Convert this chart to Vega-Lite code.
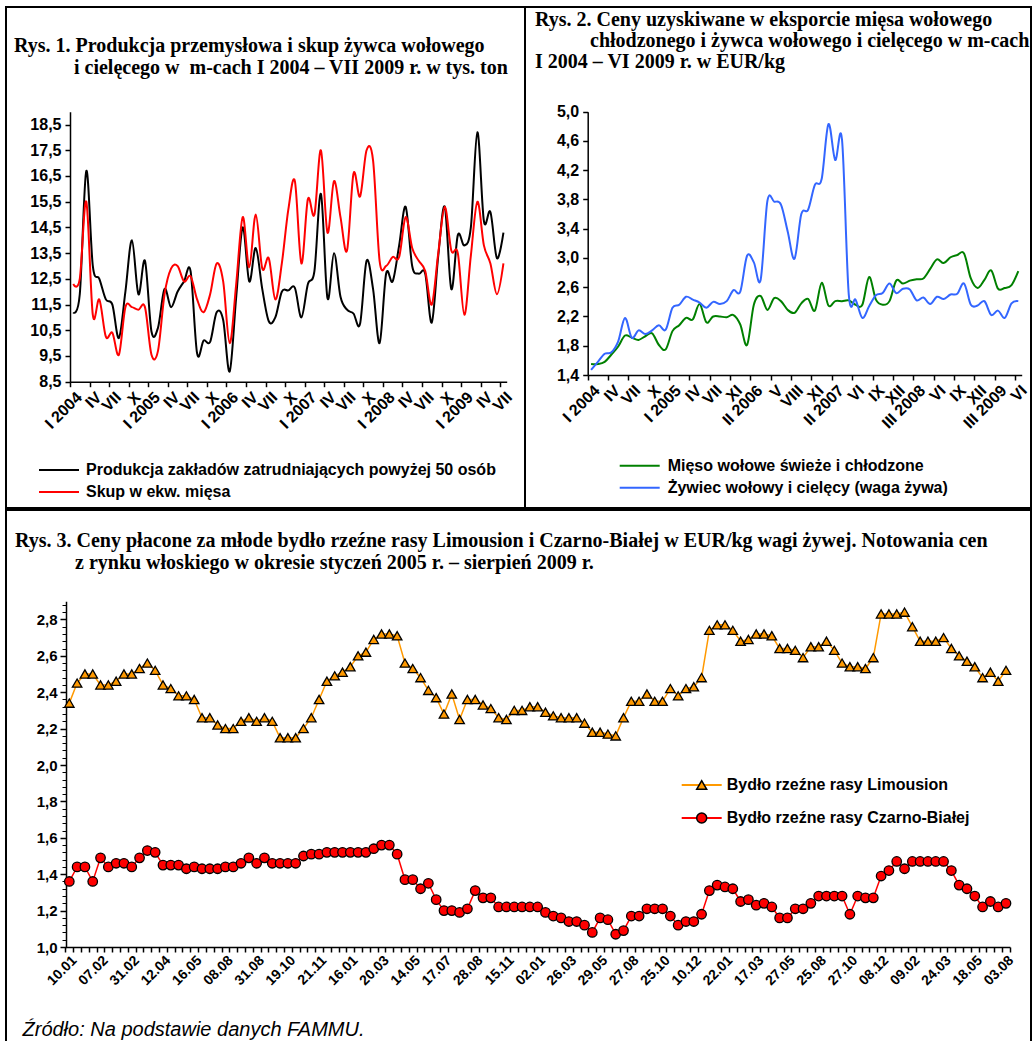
{
  "$schema": "https://vega.github.io/schema/vega-lite/v6.json",
  "padding": {"left": 5, "top": 6, "right": 0, "bottom": 0},
  "config": {
    "font": "Liberation Sans",
    "view": {"stroke": "black", "strokeWidth": 2},
    "axis": {"domainColor": "black", "tickColor": "black", "labelColor": "black", "grid": false, "domainWidth": 1.5, "tickWidth": 1.5, "labelFont": "Liberation Sans", "labelFontWeight": "bold", "labelFontSize": 16, "title": null},
    "legend": {"labelFont": "Liberation Sans", "labelFontWeight": "bold", "labelFontSize": 16, "labelColor": "black", "labelLimit": 0, "padding": 0, "offset": 0, "title": null},
    "title": {"font": "Liberation Serif", "fontWeight": "bold", "fontSize": 20, "color": "black", "anchor": "start", "frame": "group", "offset": 0, "baseline": "top", "lineHeight": 22}
  },
  "datasets": {
    "p1": [
      {"i":0,"prod":11.2,"skup":12.3},{"i":1,"prod":11.9,"skup":12.5},{"i":2,"prod":16.7,"skup":15.5},{"i":3,"prod":13.0,"skup":11.1},{"i":4,"prod":12.5,"skup":11.7},{"i":5,"prod":11.7,"skup":10.25},{"i":6,"prod":11.5,"skup":10.4},{"i":7,"prod":10.2,"skup":9.55},{"i":8,"prod":12.0,"skup":11.4},{"i":9,"prod":14.0,"skup":11.4},
      {"i":10,"prod":11.9,"skup":11.3},{"i":11,"prod":13.2,"skup":11.4},{"i":12,"prod":10.45,"skup":9.55},{"i":13,"prod":10.6,"skup":9.7},{"i":14,"prod":12.1,"skup":11.9},{"i":15,"prod":11.4,"skup":12.9},{"i":16,"prod":12.0,"skup":13.0},{"i":17,"prod":12.4,"skup":12.4},{"i":18,"prod":12.8,"skup":12.6},{"i":19,"prod":9.6,"skup":11.7},
      {"i":20,"prod":10.1,"skup":11.2},{"i":21,"prod":10.05,"skup":11.9},{"i":22,"prod":11.2,"skup":13.1},{"i":23,"prod":10.9,"skup":12.4},{"i":24,"prod":8.9,"skup":10.0},{"i":25,"prod":11.8,"skup":12.3},{"i":26,"prod":14.5,"skup":14.9},{"i":27,"prod":12.4,"skup":12.95},{"i":28,"prod":13.7,"skup":15.0},{"i":29,"prod":12.1,"skup":12.9},
      {"i":30,"prod":10.85,"skup":13.3},{"i":31,"prod":11.0,"skup":11.7},{"i":32,"prod":12.0,"skup":13.1},{"i":33,"prod":12.05,"skup":15.2},{"i":34,"prod":12.15,"skup":16.3},{"i":35,"prod":11.0,"skup":13.1},{"i":36,"prod":12.3,"skup":15.6},{"i":37,"prod":12.8,"skup":15.0},{"i":38,"prod":15.8,"skup":17.5},{"i":39,"prod":11.75,"skup":14.3},
      {"i":40,"prod":13.5,"skup":16.3},{"i":41,"prod":11.8,"skup":14.9},{"i":42,"prod":11.3,"skup":13.6},{"i":43,"prod":11.15,"skup":16.6},{"i":44,"prod":10.75,"skup":15.7},{"i":45,"prod":13.2,"skup":17.5},{"i":46,"prod":12.1,"skup":17.1},{"i":47,"prod":10.0,"skup":13.2},{"i":48,"prod":12.7,"skup":13.0},{"i":49,"prod":12.4,"skup":13.35},
      {"i":50,"prod":13.8,"skup":13.35},{"i":51,"prod":15.3,"skup":14.9},{"i":52,"prod":13.0,"skup":13.7},{"i":53,"prod":12.7,"skup":13.2},{"i":54,"prod":12.7,"skup":12.8},{"i":55,"prod":10.8,"skup":11.5},{"i":56,"prod":13.4,"skup":13.5},{"i":57,"prod":15.3,"skup":15.3},{"i":58,"prod":12.1,"skup":13.6},{"i":59,"prod":14.2,"skup":13.5},
      {"i":60,"prod":13.8,"skup":11.1},{"i":61,"prod":14.5,"skup":13.4},{"i":62,"prod":18.2,"skup":15.5},{"i":63,"prod":14.75,"skup":13.8},{"i":64,"prod":15.1,"skup":13.1},{"i":65,"prod":13.3,"skup":11.9},{"i":66,"prod":14.3,"skup":13.1}
    ],
    "p2": [
      {"i":0,"mieso":1.55,"zywiec":1.47},{"i":1,"mieso":1.55,"zywiec":1.58},{"i":2,"mieso":1.58,"zywiec":1.69},{"i":3,"mieso":1.68,"zywiec":1.71},{"i":4,"mieso":1.79,"zywiec":1.86},{"i":5,"mieso":1.94,"zywiec":2.18},{"i":6,"mieso":1.91,"zywiec":1.91},{"i":7,"mieso":1.88,"zywiec":2.01},{"i":8,"mieso":1.93,"zywiec":1.96},{"i":9,"mieso":1.97,"zywiec":2.01},
      {"i":10,"mieso":1.81,"zywiec":2.08},{"i":11,"mieso":1.75,"zywiec":2.02},{"i":12,"mieso":2.0,"zywiec":2.32},{"i":13,"mieso":2.08,"zywiec":2.36},{"i":14,"mieso":2.18,"zywiec":2.47},{"i":15,"mieso":2.16,"zywiec":2.43},{"i":16,"mieso":2.37,"zywiec":2.39},{"i":17,"mieso":2.12,"zywiec":2.32},{"i":18,"mieso":2.2,"zywiec":2.4},{"i":19,"mieso":2.2,"zywiec":2.37},
      {"i":20,"mieso":2.19,"zywiec":2.41},{"i":21,"mieso":2.22,"zywiec":2.56},{"i":22,"mieso":2.09,"zywiec":2.54},{"i":23,"mieso":1.81,"zywiec":3.03},{"i":24,"mieso":2.36,"zywiec":2.94},{"i":25,"mieso":2.48,"zywiec":2.7},{"i":26,"mieso":2.29,"zywiec":3.78},{"i":27,"mieso":2.45,"zywiec":3.77},{"i":28,"mieso":2.41,"zywiec":3.73},{"i":29,"mieso":2.29,"zywiec":3.36},
      {"i":30,"mieso":2.25,"zywiec":2.99},{"i":31,"mieso":2.38,"zywiec":3.6},{"i":32,"mieso":2.44,"zywiec":3.66},{"i":33,"mieso":2.28,"zywiec":4.0},{"i":34,"mieso":2.66,"zywiec":4.08},{"i":35,"mieso":2.35,"zywiec":4.83},{"i":36,"mieso":2.41,"zywiec":4.34},{"i":37,"mieso":2.41,"zywiec":4.62},{"i":38,"mieso":2.42,"zywiec":2.5},{"i":39,"mieso":2.36,"zywiec":2.43},
      {"i":40,"mieso":2.36,"zywiec":2.18},{"i":41,"mieso":2.74,"zywiec":2.34},{"i":42,"mieso":2.43,"zywiec":2.49},{"i":43,"mieso":2.36,"zywiec":2.52},{"i":44,"mieso":2.41,"zywiec":2.65},{"i":45,"mieso":2.69,"zywiec":2.52},{"i":46,"mieso":2.65,"zywiec":2.58},{"i":47,"mieso":2.69,"zywiec":2.57},{"i":48,"mieso":2.71,"zywiec":2.42},{"i":49,"mieso":2.72,"zywiec":2.46},
      {"i":50,"mieso":2.85,"zywiec":2.37},{"i":51,"mieso":2.98,"zywiec":2.47},{"i":52,"mieso":2.93,"zywiec":2.44},{"i":53,"mieso":3.01,"zywiec":2.5},{"i":54,"mieso":3.04,"zywiec":2.51},{"i":55,"mieso":3.06,"zywiec":2.65},{"i":56,"mieso":2.72,"zywiec":2.36},{"i":57,"mieso":2.59,"zywiec":2.35},{"i":58,"mieso":2.7,"zywiec":2.41},{"i":59,"mieso":2.83,"zywiec":2.22},
      {"i":60,"mieso":2.58,"zywiec":2.28},{"i":61,"mieso":2.59,"zywiec":2.18},{"i":62,"mieso":2.63,"zywiec":2.38},{"i":63,"mieso":2.82,"zywiec":2.41}
    ],
    "p3": [
      {"i":0,"lim":2.34,"czb":1.36},{"i":1,"lim":2.45,"czb":1.44},{"i":2,"lim":2.50,"czb":1.44},{"i":3,"lim":2.50,"czb":1.36},{"i":4,"lim":2.44,"czb":1.49},{"i":5,"lim":2.44,"czb":1.44},{"i":6,"lim":2.46,"czb":1.46},{"i":7,"lim":2.50,"czb":1.46},{"i":8,"lim":2.50,"czb":1.44},{"i":9,"lim":2.53,"czb":1.49},
      {"i":10,"lim":2.56,"czb":1.53},{"i":11,"lim":2.52,"czb":1.52},{"i":12,"lim":2.44,"czb":1.45},{"i":13,"lim":2.42,"czb":1.45},{"i":14,"lim":2.38,"czb":1.45},{"i":15,"lim":2.38,"czb":1.43},{"i":16,"lim":2.36,"czb":1.44},{"i":17,"lim":2.26,"czb":1.43},{"i":18,"lim":2.26,"czb":1.43},{"i":19,"lim":2.22,"czb":1.43},
      {"i":20,"lim":2.20,"czb":1.44},{"i":21,"lim":2.20,"czb":1.44},{"i":22,"lim":2.24,"czb":1.46},{"i":23,"lim":2.26,"czb":1.49},{"i":24,"lim":2.24,"czb":1.46},{"i":25,"lim":2.26,"czb":1.49},{"i":26,"lim":2.24,"czb":1.46},{"i":27,"lim":2.15,"czb":1.46},{"i":28,"lim":2.15,"czb":1.46},{"i":29,"lim":2.15,"czb":1.46},
      {"i":30,"lim":2.20,"czb":1.50},{"i":31,"lim":2.26,"czb":1.51},{"i":32,"lim":2.36,"czb":1.51},{"i":33,"lim":2.46,"czb":1.52},{"i":34,"lim":2.49,"czb":1.52},{"i":35,"lim":2.51,"czb":1.52},{"i":36,"lim":2.54,"czb":1.52},{"i":37,"lim":2.60,"czb":1.52},{"i":38,"lim":2.62,"czb":1.52},{"i":39,"lim":2.69,"czb":1.54},
      {"i":40,"lim":2.72,"czb":1.56},{"i":41,"lim":2.72,"czb":1.56},{"i":42,"lim":2.71,"czb":1.51},{"i":43,"lim":2.56,"czb":1.37},{"i":44,"lim":2.53,"czb":1.37},{"i":45,"lim":2.48,"czb":1.32},{"i":46,"lim":2.41,"czb":1.35},{"i":47,"lim":2.37,"czb":1.26},{"i":48,"lim":2.28,"czb":1.20},{"i":49,"lim":2.39,"czb":1.20},
      {"i":50,"lim":2.25,"czb":1.19},{"i":51,"lim":2.36,"czb":1.21},{"i":52,"lim":2.36,"czb":1.31},{"i":53,"lim":2.33,"czb":1.27},{"i":54,"lim":2.31,"czb":1.27},{"i":55,"lim":2.26,"czb":1.22},{"i":56,"lim":2.25,"czb":1.22},{"i":57,"lim":2.30,"czb":1.22},{"i":58,"lim":2.30,"czb":1.22},{"i":59,"lim":2.32,"czb":1.22},
      {"i":60,"lim":2.32,"czb":1.22},{"i":61,"lim":2.29,"czb":1.19},{"i":62,"lim":2.27,"czb":1.17},{"i":63,"lim":2.26,"czb":1.16},{"i":64,"lim":2.26,"czb":1.14},{"i":65,"lim":2.26,"czb":1.14},{"i":66,"lim":2.23,"czb":1.12},{"i":67,"lim":2.18,"czb":1.08},{"i":68,"lim":2.18,"czb":1.16},{"i":69,"lim":2.17,"czb":1.15},
      {"i":70,"lim":2.16,"czb":1.07},{"i":71,"lim":2.26,"czb":1.09},{"i":72,"lim":2.35,"czb":1.17},{"i":73,"lim":2.35,"czb":1.17},{"i":74,"lim":2.39,"czb":1.21},{"i":75,"lim":2.35,"czb":1.21},{"i":76,"lim":2.35,"czb":1.21},{"i":77,"lim":2.42,"czb":1.17},{"i":78,"lim":2.38,"czb":1.12},{"i":79,"lim":2.42,"czb":1.14},
      {"i":80,"lim":2.43,"czb":1.14},{"i":81,"lim":2.48,"czb":1.18},{"i":82,"lim":2.74,"czb":1.31},{"i":83,"lim":2.77,"czb":1.34},{"i":84,"lim":2.77,"czb":1.33},{"i":85,"lim":2.74,"czb":1.32},{"i":86,"lim":2.68,"czb":1.25},{"i":87,"lim":2.69,"czb":1.26},{"i":88,"lim":2.72,"czb":1.23},{"i":89,"lim":2.72,"czb":1.24},
      {"i":90,"lim":2.71,"czb":1.22},{"i":91,"lim":2.64,"czb":1.16},{"i":92,"lim":2.64,"czb":1.16},{"i":93,"lim":2.63,"czb":1.21},{"i":94,"lim":2.59,"czb":1.21},{"i":95,"lim":2.65,"czb":1.24},{"i":96,"lim":2.65,"czb":1.28},{"i":97,"lim":2.68,"czb":1.28},{"i":98,"lim":2.63,"czb":1.28},{"i":99,"lim":2.56,"czb":1.28},
      {"i":100,"lim":2.54,"czb":1.18},{"i":101,"lim":2.54,"czb":1.28},{"i":102,"lim":2.53,"czb":1.27},{"i":103,"lim":2.59,"czb":1.27},{"i":104,"lim":2.83,"czb":1.39},{"i":105,"lim":2.83,"czb":1.42},{"i":106,"lim":2.83,"czb":1.47},{"i":107,"lim":2.84,"czb":1.43},{"i":108,"lim":2.76,"czb":1.47},{"i":109,"lim":2.68,"czb":1.47},
      {"i":110,"lim":2.68,"czb":1.47},{"i":111,"lim":2.68,"czb":1.47},{"i":112,"lim":2.70,"czb":1.47},{"i":113,"lim":2.64,"czb":1.42},{"i":114,"lim":2.60,"czb":1.34},{"i":115,"lim":2.57,"czb":1.32},{"i":116,"lim":2.54,"czb":1.28},{"i":117,"lim":2.48,"czb":1.22},{"i":118,"lim":2.51,"czb":1.25},{"i":119,"lim":2.46,"czb":1.22},
      {"i":120,"lim":2.52,"czb":1.24}
    ]
  },
  "spacing": 0,
  "resolve": {"scale": {"color": "independent", "shape": "independent"}, "legend": {"color": "independent", "shape": "independent"}},
  "vconcat": [
    {
      "spacing": 0,
      "bounds": "flush",
      "resolve": {"scale": {"color": "independent", "shape": "independent"}, "legend": {"color": "independent", "shape": "independent"}},
      "hconcat": [
        {
          "width": 519,
          "height": 501,
          "data": {"name": "p1"},
          "transform": [{"fold": ["prod", "skup"], "as": ["seria", "wartosc"]}],
          "title": {"text": ["Rys. 1. Produkcja przemysłowa i skup żywca wołowego", "\u200b\u00a0\u00a0\u00a0\u00a0\u00a0\u00a0\u00a0\u00a0\u00a0\u00a0\u00a0\u00a0i cielęcego w\u00a0 m-cach I 2004 – VII 2009 r. w tys. ton"], "dx": 8, "dy": 75},
          "encoding": {
            "y": {"field": "wartosc", "type": "quantitative", "scale": {"domain": [8.5, 19], "range": [374.7, 104.7], "nice": false, "zero": false},
              "axis": {"orient": "left", "offset": -64, "values": [8.5, 9.5, 10.5, 11.5, 12.5, 13.5, 14.5, 15.5, 16.5, 17.5, 18.5], "labelExpr": "replace(format(datum.value, '.1f'), '.', ',')", "tickSize": 5, "labelPadding": 4}},
            "color": {"field": "seria", "type": "nominal", "scale": {"domain": ["prod", "skup"], "range": ["#000000", "#ff0000"]},
              "legend": {"orient": "none", "legendX": 45, "legendY": 455, "direction": "vertical", "symbolType": "M-4,0L4,0", "symbolSize": 100, "symbolStrokeWidth": 2, "rowPadding": 6, "labelOffset": 19,
                "labelExpr": "datum.label == 'prod' ? 'Produkcja zakładów zatrudniających powyżej 50 osób' : 'Skup w ekw. mięsa'"}}
          },
          "layer": [
            {
              "transform": [{"filter": {"field": "seria", "equal": "prod"}}],
              "mark": {"type": "line", "interpolate": "cardinal", "strokeWidth": 2},
              "encoding": {"x": {"field": "i", "type": "quantitative", "scale": {"domain": [-0.5, 66.5], "range": [64, 500.7], "nice": false, "zero": false},
                "axis": {"orient": "bottom", "offset": -126.3, "values": [-0.5, 2.5, 5.5, 8.5, 11.5, 14.5, 17.5, 20.5, 23.5, 26.5, 29.5, 32.5, 35.5, 38.5, 41.5, 44.5, 47.5, 50.5, 53.5, 56.5, 59.5, 62.5, 65.5], "labels": false, "tickSize": 5}}}
            },
            {
              "transform": [{"filter": {"field": "seria", "equal": "skup"}}],
              "mark": {"type": "line", "interpolate": "cardinal", "strokeWidth": 2},
              "encoding": {"x": {"field": "i", "type": "quantitative", "scale": {"domain": [-0.5, 66.5], "range": [64, 500.7], "nice": false, "zero": false},
                "axis": {"orient": "bottom", "offset": -126.3, "values": [0, 3, 6, 9, 12, 15, 18, 21, 24, 27, 30, 33, 36, 39, 42, 45, 48, 51, 54, 57, 60, 63, 66], "domain": false, "ticks": false, "labelAngle": -45, "labelPadding": 7, "labelOverlap": false,
                  "labelExpr": "['I 2004','IV','VII','X','I 2005','IV','VII','X','I 2006','IV','VII','X','I 2007','IV','VII','X','I 2008','IV','VII','X','I 2009','IV','VII'][round(datum.value/3)]"}}}
            }
          ],
          "resolve": {"axis": {"x": "independent"}}
        },
        {
          "width": 506,
          "height": 501,
          "data": {"name": "p2"},
          "transform": [{"fold": ["mieso", "zywiec"], "as": ["seria", "wartosc"]}],
          "title": {"text": ["Rys. 2. Ceny uzyskiwane w eksporcie mięsa wołowego", "\u200b\u00a0\u00a0\u00a0\u00a0\u00a0\u00a0\u00a0\u00a0\u00a0\u00a0\u00a0chłodzonego i żywca wołowego i cielęcego w m-cach", "I 2004 – VI 2009 r. w EUR/kg"], "dx": 10, "dy": 69, "lineHeight": 21},
          "encoding": {
            "y": {"field": "wartosc", "type": "quantitative", "scale": {"domain": [1.4, 5.0], "range": [368, 104.7], "nice": false, "zero": false},
              "axis": {"orient": "left", "offset": -62.7, "values": [1.4, 1.8, 2.2, 2.6, 3.0, 3.4, 3.8, 4.2, 4.6, 5.0], "labelExpr": "replace(format(datum.value, '.1f'), '.', ',')", "tickSize": 5, "labelPadding": 4}},
            "color": {"field": "seria", "type": "nominal", "scale": {"domain": ["mieso", "zywiec"], "range": ["#008000", "#3366ff"]},
              "legend": {"orient": "none", "legendX": 106.7, "legendY": 450.7, "direction": "vertical", "symbolType": "M-4,0L4,0", "symbolSize": 100, "symbolStrokeWidth": 2, "rowPadding": 6, "labelOffset": 20,
                "labelExpr": "datum.label == 'mieso' ? 'Mięso wołowe świeże i chłodzone' : 'Żywiec wołowy i cielęcy (waga żywa)'"}}
          },
          "layer": [
            {
              "transform": [{"filter": {"field": "seria", "equal": "mieso"}}],
              "mark": {"type": "line", "interpolate": "cardinal", "strokeWidth": 2},
              "encoding": {"x": {"field": "i", "type": "quantitative", "scale": {"domain": [-0.5, 63.5], "range": [62.7, 496.7], "nice": false, "zero": false},
                "axis": {"orient": "bottom", "offset": -133, "values": [-0.5, 2.5, 5.5, 8.5, 11.5, 14.5, 17.5, 20.5, 23.5, 26.5, 29.5, 32.5, 35.5, 38.5, 41.5, 44.5, 47.5, 50.5, 53.5, 56.5, 59.5, 62.5], "labels": false, "tickSize": 5}}}
            },
            {
              "transform": [{"filter": {"field": "seria", "equal": "zywiec"}}],
              "mark": {"type": "line", "interpolate": "cardinal", "strokeWidth": 2},
              "encoding": {"x": {"field": "i", "type": "quantitative", "scale": {"domain": [-0.5, 63.5], "range": [62.7, 496.7], "nice": false, "zero": false},
                "axis": {"orient": "bottom", "offset": -133, "values": [0, 3, 6, 9, 12, 15, 18, 21, 24, 27, 30, 33, 36, 39, 42, 45, 48, 51, 54, 57, 60, 63], "domain": false, "ticks": false, "labelAngle": -45, "labelPadding": 7, "labelOverlap": false,
                  "labelExpr": "['I 2004','IV','VII','X','I 2005','IV','VII','XI','II 2006','V','VIII','XI','II 2007','VI','IX','XII','III 2008','VI','IX','XII','III 2009','VI'][round(datum.value/3)]"}}}
            }
          ],
          "resolve": {"axis": {"x": "independent"}}
        }
      ]
    },
    {
      "width": 1025,
      "height": 532,
      "data": {"name": "p3"},
      "transform": [{"fold": ["lim", "czb"], "as": ["seria", "wartosc"]}],
      "title": {"text": ["Rys. 3. Ceny płacone za młode bydło rzeźne rasy Limousion i Czarno-Białej w EUR/kg wagi żywej. Notowania cen", "\u200b\u00a0\u00a0\u00a0\u00a0\u00a0\u00a0\u00a0\u00a0\u00a0\u00a0\u00a0\u00a0z rynku włoskiego w okresie styczeń 2005 r. – sierpień 2009 r."], "dx": 9, "dy": 67},
      "layer": [
        {
          "mark": {"type": "line", "strokeWidth": 1.5},
          "encoding": {
            "x": {"field": "i", "type": "quantitative", "scale": {"domain": [-0.5, 120.5], "range": [59.4, 1003.9], "nice": false, "zero": false},
              "axis": {"orient": "bottom", "offset": -95, "labels": false, "tickSize": 5,
                "values": [-0.5,0.5,1.5,2.5,3.5,4.5,5.5,6.5,7.5,8.5,9.5,10.5,11.5,12.5,13.5,14.5,15.5,16.5,17.5,18.5,19.5,20.5,21.5,22.5,23.5,24.5,25.5,26.5,27.5,28.5,29.5,30.5,31.5,32.5,33.5,34.5,35.5,36.5,37.5,38.5,39.5,40.5,41.5,42.5,43.5,44.5,45.5,46.5,47.5,48.5,49.5,50.5,51.5,52.5,53.5,54.5,55.5,56.5,57.5,58.5,59.5,60.5,61.5,62.5,63.5,64.5,65.5,66.5,67.5,68.5,69.5,70.5,71.5,72.5,73.5,74.5,75.5,76.5,77.5,78.5,79.5,80.5,81.5,82.5,83.5,84.5,85.5,86.5,87.5,88.5,89.5,90.5,91.5,92.5,93.5,94.5,95.5,96.5,97.5,98.5,99.5,100.5,101.5,102.5,103.5,104.5,105.5,106.5,107.5,108.5,109.5,110.5,111.5,112.5,113.5,114.5,115.5,116.5,117.5,118.5,119.5,120.5],
                "title": "Źródło: Na podstawie danych FAMMU.", "titleFont": "Liberation Sans", "titleFontStyle": "italic", "titleFontWeight": "normal", "titleFontSize": 20, "titleColor": "black", "titleX": 16, "titleY": 88, "titleAlign": "left", "titleAnchor": "start", "titleBaseline": "alphabetic"}},
            "y": {"field": "wartosc", "type": "quantitative", "scale": {"domain": [1.0, 2.9], "range": [437, 91.2], "nice": false, "zero": false},
              "axis": {"orient": "left", "offset": -60, "values": [1.0, 1.2, 1.4, 1.6, 1.8, 2.0, 2.2, 2.4, 2.6, 2.8], "labelExpr": "replace(format(datum.value, '.1f'), '.', ',')", "tickSize": 6, "labelPadding": 3, "labelFontSize": 15}},
            "color": {"field": "seria", "type": "nominal", "scale": {"domain": ["lim", "czb"], "range": ["#ff9900", "#ff0000"]},
              "legend": {"orient": "none", "legendX": 687.7, "legendY": 267, "direction": "vertical", "symbolType": "M-4,0L4,0", "symbolSize": 100, "symbolStrokeWidth": 2, "rowPadding": 17, "labelOffset": 17,
                "labelExpr": "datum.label == 'lim' ? 'Bydło rzeźne rasy Limousion' : 'Bydło rzeźne rasy Czarno-Białej'"}}
          }
        },
        {
          "mark": {"type": "point", "filled": true, "stroke": "black", "strokeWidth": 1.3, "size": 90, "opacity": 1},
          "encoding": {
            "x": {"field": "i", "type": "quantitative", "scale": {"domain": [-0.5, 120.5], "range": [59.4, 1003.9], "nice": false, "zero": false},
              "axis": {"orient": "bottom", "offset": -95, "domain": false, "ticks": false, "labelAngle": -45, "labelPadding": 6, "labelOverlap": false, "labelFontSize": 14,
                "values": [0, 4, 8, 12, 16, 20, 24, 28, 32, 36, 40, 44, 48, 52, 56, 60, 64, 68, 72, 76, 80, 84, 88, 92, 96, 100, 104, 108, 112, 116, 120],
                "labelExpr": "['10.01','07.02','31.02','12.04','16.05','08.08','31.08','19.10','21.11','16.01','20.03','14.05','17.07','28.08','15.11','02.01','26.03','29.05','27.08','25.10','10.12','22.01','17.03','27.05','25.08','27.10','08.12','09.02','24.03','18.05','03.08'][round(datum.value/4)]"}},
            "y": {"field": "wartosc", "type": "quantitative", "scale": {"domain": [1.0, 2.9], "range": [437, 91.2], "nice": false, "zero": false},
              "axis": {"orient": "left", "offset": -60, "labels": false, "domain": false, "tickSize": 4, "tickWidth": 1,
                "values": [1,1.04,1.08,1.12,1.16,1.2,1.24,1.28,1.32,1.36,1.4,1.44,1.48,1.52,1.56,1.6,1.64,1.68,1.72,1.76,1.8,1.84,1.88,1.92,1.96,2,2.04,2.08,2.12,2.16,2.2,2.24,2.28,2.32,2.36,2.4,2.44,2.48,2.52,2.56,2.6,2.64,2.68,2.72,2.76,2.8,2.84,2.88]}},
            "color": {"field": "seria", "type": "nominal", "scale": {"domain": ["lim", "czb"], "range": ["#ff9900", "#ff0000"]},
              "legend": {"orient": "none", "legendX": 687.7, "legendY": 267, "direction": "vertical", "symbolSize": 100, "rowPadding": 17, "labelOffset": 17, "labelColor": "transparent",
                "labelExpr": "datum.label == 'lim' ? 'Bydło rzeźne rasy Limousion' : 'Bydło rzeźne rasy Czarno-Białej'"}},
            "shape": {"field": "seria", "type": "nominal", "scale": {"domain": ["lim", "czb"], "range": ["triangle-up", "circle"]},
              "legend": {"orient": "none", "legendX": 687.7, "legendY": 267, "direction": "vertical", "symbolSize": 100, "rowPadding": 17, "labelOffset": 17, "labelColor": "transparent",
                "labelExpr": "datum.label == 'lim' ? 'Bydło rzeźne rasy Limousion' : 'Bydło rzeźne rasy Czarno-Białej'"}}
          }
        }
      ],
      "resolve": {"axis": {"x": "independent", "y": "independent"}, "legend": {"color": "independent", "shape": "independent"}}
    }
  ]
}
